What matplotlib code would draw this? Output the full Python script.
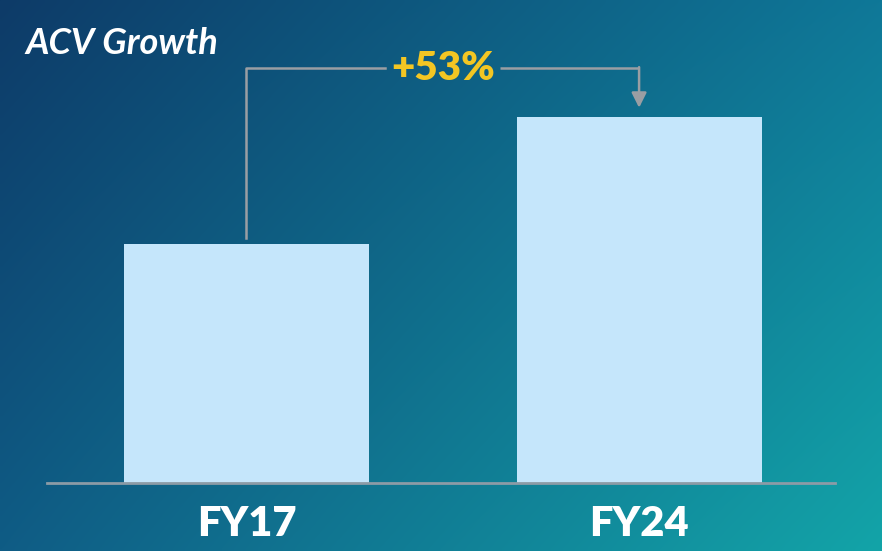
import numpy as np
import matplotlib.pyplot as plt
from matplotlib.colors import to_rgb

categories = ['FY17', 'FY24']
acv = [1.0, 1.53]
growth_label = '+53%'
title = 'ACV Growth'

BAR = '#c5e6fb'
YELLOW = '#f3c623'
GREY = '#9a9ea3'

fig = plt.figure(figsize=(8.82, 5.51), dpi=100)

# gradient background, navy top-left to teal bottom-right
tl, tr = np.array(to_rgb('#0d3b68')), np.array(to_rgb('#0f7898'))
bl, br = np.array(to_rgb('#0f5c85')), np.array(to_rgb('#13a4a8'))
u = np.linspace(0, 1, 200)[None, :, None]
v = np.linspace(0, 1, 130)[:, None, None]
grad = (1 - v) * ((1 - u) * tl + u * tr) + v * ((1 - u) * bl + u * br)
bg = fig.add_axes([0, 0, 1, 1], zorder=0)
bg.imshow(grad, aspect='auto', extent=(0, 1, 0, 1), interpolation='bilinear')
bg.axis('off')

ax = fig.add_axes([47 / 882, 68 / 551, 788 / 882, 483 / 551], zorder=1)
ax.patch.set_alpha(0)
x = np.arange(len(categories))
ax.bar(x, acv, width=0.624, color=BAR, zorder=2)
ax.set_xlim(-0.508, 1.499)
ax.set_ylim(0, 2.021)

for s in ['top', 'left', 'right']:
    ax.spines[s].set_visible(False)
ax.spines['bottom'].set_color('#8c9ba6')
ax.spines['bottom'].set_linewidth(2)
ax.set_yticks([])
ax.set_xticks(x, categories)
ax.tick_params(axis='x', length=0, pad=16)
for lab in ax.get_xticklabels():
    lab.set_fontfamily('Lato')
    lab.set_fontweight('heavy')
    lab.set_fontsize(30)
    lab.set_color('white')

# connector from FY17 to FY24
yc = 1.736
ax.plot([x[0], x[0], 0.352], [acv[0] + 0.025, yc, yc], color=GREY, lw=1.8, zorder=3)
ax.plot([0.645, x[1]], [yc, yc], color=GREY, lw=1.8, zorder=3, solid_capstyle='butt')
ax.annotate('', xy=(x[1], acv[1] + 0.04), xytext=(x[1], yc + 0.004),
            arrowprops=dict(arrowstyle='-|>,head_width=0.45,head_length=0.9',
                            color=GREY, lw=1.8, shrinkA=0, shrinkB=0), zorder=3)
ax.text(0.5, yc, growth_label, ha='center', va='center', color=YELLOW,
        fontfamily='Lato', fontweight='heavy', fontsize=29)

fig.text(25 / 882, 1 - 44 / 551, title, ha='left', va='center', color='white',
         fontfamily='Lato', fontweight='bold', fontstyle='italic', fontsize=26)

fig.savefig('out.png', dpi=100)
